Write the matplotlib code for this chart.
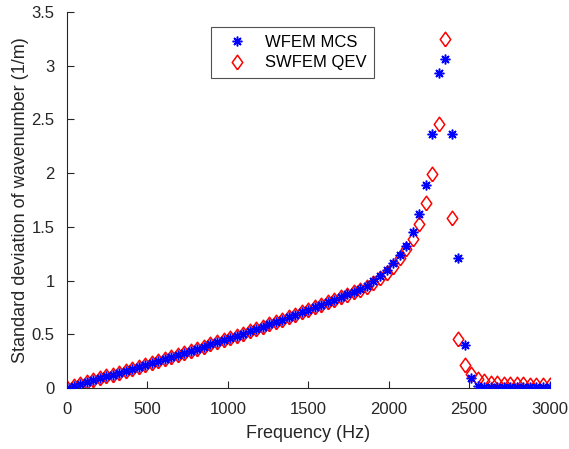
import matplotlib
matplotlib.use("Agg")
import matplotlib.pyplot as plt
import numpy as np

plt.rcParams['font.family'] = ['Liberation Sans', 'DejaVu Sans']

# frequency grid (Hz), 75 points from 0 to 3000
freq = np.linspace(0, 3000, 75)

# WFEM MCS (blue asterisks)
std_mcs = [0.0, 0.018, 0.036, 0.053, 0.071, 0.089, 0.107, 0.125, 0.143, 0.161,
           0.179, 0.198, 0.216, 0.234, 0.253, 0.272, 0.290, 0.309, 0.328, 0.347,
           0.367, 0.386, 0.406, 0.426, 0.446, 0.466, 0.487, 0.507, 0.528, 0.549,
           0.571, 0.592, 0.614, 0.636, 0.658, 0.681, 0.704, 0.727, 0.750, 0.774,
           0.798, 0.823, 0.848, 0.873, 0.898, 0.924, 0.95, 0.996, 1.04, 1.10,
           1.16, 1.24, 1.325, 1.455, 1.62, 1.89, 2.36, 2.93, 3.06, 2.36,
           1.21, 0.40, 0.096, 0.02, 0.006, 0.005, 0.005, 0.005, 0.005, 0.005,
           0.005, 0.005, 0.005, 0.005, 0.005]

# SWFEM QEV (red diamonds)
std_qev = [0.0, 0.018, 0.036, 0.053, 0.071, 0.089, 0.107, 0.125, 0.143, 0.161,
           0.179, 0.198, 0.216, 0.234, 0.253, 0.272, 0.290, 0.309, 0.328, 0.347,
           0.367, 0.386, 0.406, 0.426, 0.446, 0.466, 0.487, 0.507, 0.528, 0.549,
           0.571, 0.592, 0.614, 0.636, 0.658, 0.681, 0.704, 0.727, 0.750, 0.773,
           0.796, 0.82, 0.845, 0.868, 0.892, 0.915, 0.94, 0.98, 1.02, 1.07,
           1.13, 1.21, 1.29, 1.39, 1.53, 1.72, 1.99, 2.46, 3.25, 1.58,
           0.456, 0.214, 0.13, 0.081, 0.068, 0.05, 0.044, 0.04, 0.037, 0.035,
           0.033, 0.031, 0.03, 0.029, 0.028]

fig = plt.figure(figsize=(5.69, 4.49), dpi=100)
ax = fig.add_axes([0.1178, 0.1359, 0.848, 0.8374])

diamond = [(0, -1), (0.72, 0), (0, 1), (-0.72, 0), (0, -1)]

ax.plot(freq, std_mcs, linestyle='none', marker=(8, 2, 0), markersize=7,
        markeredgewidth=1.1, color='#0000ff', label='WFEM MCS', zorder=3)
ax.plot(freq, std_qev, linestyle='none', marker=diamond, markersize=10.5,
        markeredgewidth=1.1, markerfacecolor='none', markeredgecolor='#ff0000',
        label='SWFEM QEV', zorder=2)

ax.set_xlim(0, 3000)
ax.set_ylim(0, 3.5)
ax.set_xticks(np.arange(0, 3001, 500))
ax.set_yticks(np.arange(0, 3.51, 0.5))
ax.set_yticklabels(['0', '0.5', '1', '1.5', '2', '2.5', '3', '3.5'])

axcol = '#262626'
for s in ['top', 'right']:
    ax.spines[s].set_visible(False)
for s in ['left', 'bottom']:
    ax.spines[s].set_color(axcol)
    ax.spines[s].set_linewidth(0.8)
ax.tick_params(direction='in', length=5, width=0.8, colors=axcol,
               labelsize=12)
ax.tick_params(axis='x', pad=10)
ax.tick_params(axis='y', pad=9)

ax.set_xlabel('Frequency (Hz)', fontsize=13, color=axcol, labelpad=6)
ax.set_ylabel('Standard deviation of wavenumber (1/m)', fontsize=13,
              color=axcol, labelpad=2)

leg = ax.legend(loc='upper center', bbox_to_anchor=(0.468, 0.982),
                fontsize=12, frameon=True, fancybox=False, borderpad=0.45,
                handletextpad=0.6, labelspacing=0.35, handlelength=2.2)
leg.get_frame().set_edgecolor(axcol)
leg.get_frame().set_linewidth(0.8)

fig.savefig('out.png', dpi=100)
